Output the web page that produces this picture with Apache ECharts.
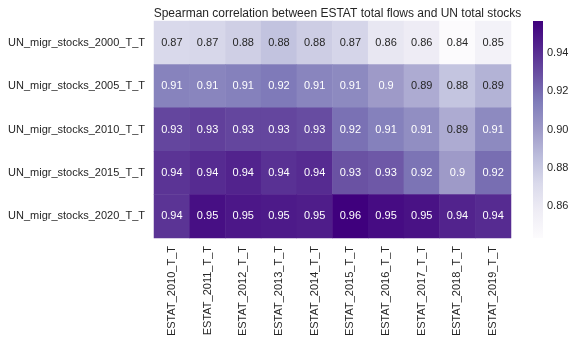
<!DOCTYPE html>
<html>
<head>
<meta charset="utf-8">
<script src="https://cdn.jsdelivr.net/npm/echarts@6/dist/echarts.min.js"></script>
<style>html,body{margin:0;padding:0;background:#fff;}#c{width:582px;height:345px;}</style>
</head>
<body>
<div id="c"></div>
<script>
const title = 'Spearman correlation between ESTAT total flows and UN total stocks';
const columns = ['ESTAT_2010_T_T','ESTAT_2011_T_T','ESTAT_2012_T_T','ESTAT_2013_T_T','ESTAT_2014_T_T','ESTAT_2015_T_T','ESTAT_2016_T_T','ESTAT_2017_T_T','ESTAT_2018_T_T','ESTAT_2019_T_T'];
const rows = ['UN_migr_stocks_2000_T_T','UN_migr_stocks_2005_T_T','UN_migr_stocks_2010_T_T','UN_migr_stocks_2015_T_T','UN_migr_stocks_2020_T_T'];
const row2000 = [0.872, 0.873, 0.877, 0.883, 0.878, 0.874, 0.862, 0.858, 0.844, 0.853];
const row2005 = [0.911, 0.910, 0.912, 0.915, 0.910, 0.908, 0.900, 0.893, 0.882, 0.890];
const row2010 = [0.932, 0.934, 0.932, 0.932, 0.930, 0.918, 0.912, 0.906, 0.893, 0.908];
const row2015 = [0.938, 0.941, 0.944, 0.939, 0.941, 0.928, 0.926, 0.917, 0.900, 0.919];
const row2020 = [0.938, 0.951, 0.948, 0.947, 0.946, 0.957, 0.952, 0.950, 0.944, 0.941];
const colorbarMin = 0.8435;
const colorbarMax = 0.9565;
const colorbarTicks = [0.86, 0.88, 0.90, 0.92, 0.94];

const purples = ['#fcfbfd','#efedf5','#dadaeb','#bcbddc','#9e9ac8','#807dba','#6a51a3','#54278f','#3f007d'];
function hex2rgb(h){return [1,3,5].map(i=>parseInt(h.substr(i,2),16)/255);}
function cmap(v){
  let t=(v-colorbarMin)/(colorbarMax-colorbarMin); t=Math.max(0,Math.min(1,t));
  const p=t*(purples.length-1); const i=Math.min(Math.floor(p),purples.length-2); const f=p-i;
  const a=hex2rgb(purples[i]), b=hex2rgb(purples[i+1]);
  return a.map((x,k)=>x+(b[k]-x)*f);
}
function lum(rgb){
  const l=rgb.map(c=>c<=0.03928?c/12.92:Math.pow((c+0.055)/1.055,2.4));
  return 0.2126*l[0]+0.7152*l[1]+0.0722*l[2];
}
const matrix=[row2000,row2005,row2010,row2015,row2020];
const data=[];
matrix.forEach((r,yi)=>r.forEach((v,xi)=>{
  data.push({value:[xi,yi,v],label:{color: lum(cmap(v))>0.408 ? '#262626' : '#ffffff'}});
}));

const font='Liberation Sans, Arial, sans-serif';
const chart=echarts.init(document.getElementById('c'),null,{renderer:'canvas'});
chart.setOption({
  animation:false,
  backgroundColor:'#ffffff',
  title:{text:title,left:332.5,textAlign:'center',top:3,textStyle:{fontFamily:font,fontSize:12,fontWeight:'normal',color:'#262626'}},
  grid:[
    {left:154,top:21,width:357,height:217},
    {left:533,top:21,width:10,height:217}
  ],
  xAxis:[
    {type:'category',data:columns,gridIndex:0,position:'bottom',axisLine:{show:false},axisTick:{show:false},splitLine:{show:false},
     axisLabel:{rotate:90,margin:8,fontFamily:font,fontSize:11,color:'#262626',interval:0}},
    {type:'value',gridIndex:1,show:false,min:0,max:1}
  ],
  yAxis:[
    {type:'category',data:rows,gridIndex:0,inverse:true,axisLine:{show:false},axisTick:{show:false},splitLine:{show:false},
     axisLabel:{margin:9,fontFamily:font,fontSize:11,color:'#262626',interval:0}},
    {type:'value',gridIndex:1,position:'right',min:colorbarMin,max:colorbarMax,axisLine:{show:false},splitLine:{show:false},
     axisTick:{show:true,length:4,lineStyle:{color:'#262626',width:1},customValues:colorbarTicks},
     axisLabel:{margin:4,fontFamily:font,fontSize:11,color:'#262626',customValues:colorbarTicks,formatter:v=>v.toFixed(2)}}
  ],
  visualMap:{type:'continuous',seriesIndex:0,min:colorbarMin,max:colorbarMax,show:false,inRange:{color:purples}},
  series:[{
    type:'heatmap',xAxisIndex:0,yAxisIndex:0,data:data,
    label:{show:true,fontFamily:font,fontSize:11,formatter:p=>String(Number(p.value[2].toPrecision(2)))},
    itemStyle:{borderWidth:0},
    emphasis:{disabled:true}
  },{
    type:'custom',xAxisIndex:1,yAxisIndex:1,silent:true,
    data:[[0,colorbarMin,1,colorbarMax]],
    renderItem:function(params,api){
      const p0=api.coord([api.value(0),api.value(1)]);
      const p1=api.coord([api.value(2),api.value(3)]);
      return {type:'rect',shape:{x:p0[0],y:p1[1],width:p1[0]-p0[0],height:p0[1]-p1[1]},
        style:{fill:new echarts.graphic.LinearGradient(0,1,0,0,purples.map((c,i)=>({offset:i/(purples.length-1),color:c})))}};
    }
  }]
});
</script>
</body>
</html>
